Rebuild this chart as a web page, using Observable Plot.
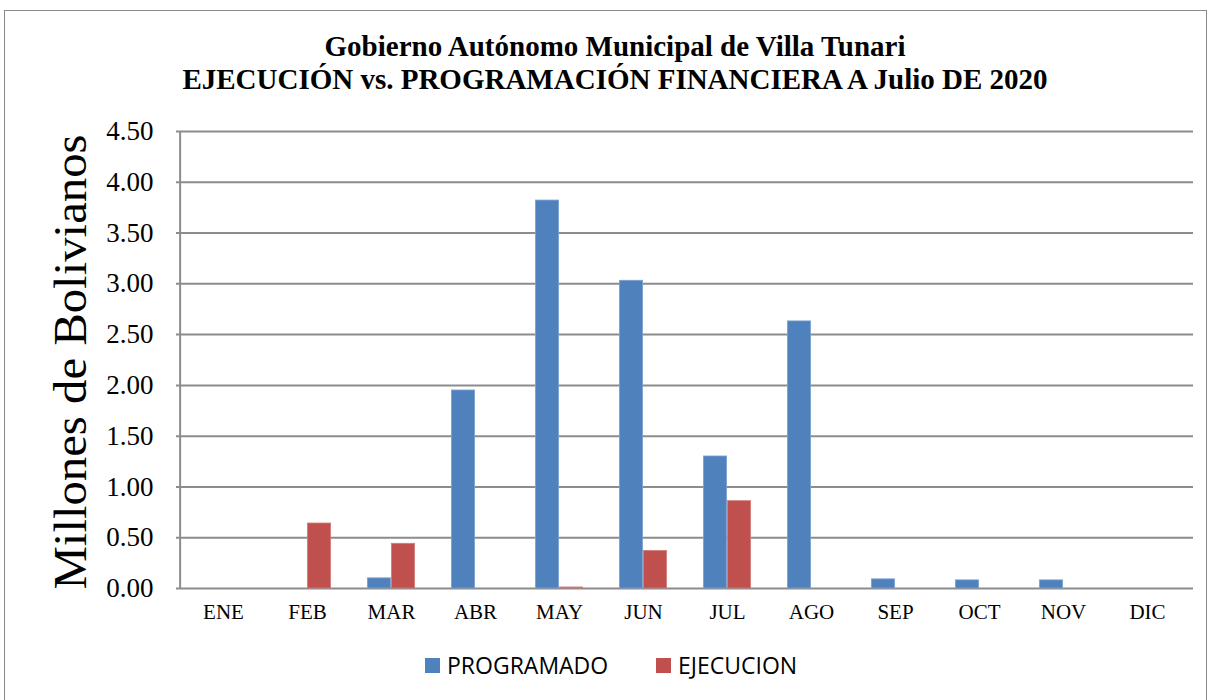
<!DOCTYPE html>
<html>
<head>
<meta charset="utf-8">
<script src="https://cdn.jsdelivr.net/npm/d3@7"></script>
<script src="https://cdn.jsdelivr.net/npm/@observablehq/plot@0.6"></script>
<style>
  html, body { margin: 0; padding: 0; background: #fff; }
  #wrap { position: relative; width: 1211px; height: 700px; overflow: hidden; background: #fff; }
  #frame { position: absolute; left: 4px; top: 10px; width: 1203px; height: 700px; border: 1px solid #8a8a8a; box-sizing: border-box; }
  #title { position: absolute; left: 0; width: 1230px; top: 30px; text-align: center;
           font-family: "Liberation Serif", "Times New Roman", serif; font-weight: bold; font-size: 29px; line-height: 33px; color: #000; }
  #chart { position: absolute; left: 0; top: 0; }
  #ytitle { position: absolute; left: 0; top: 0; }
  #legend { position: absolute; top: 650px; left: 0; width: 1211px; height: 30px;
            font-family: "Open Sans", "Liberation Sans", sans-serif; font-size: 23px; color: #000; }
  .item { position: absolute; top: 0; display: flex; align-items: center; height: 30px; }
  .sw { width: 15px; height: 15px; margin-right: 7px; }
</style>
</head>
<body>
<div id="wrap">
  <div id="frame"></div>
  <div id="title">Gobierno Autónomo Municipal de Villa Tunari<br>EJECUCIÓN vs. PROGRAMACIÓN FINANCIERA A Julio DE 2020</div>
  <div id="chart"></div>
  <svg id="ytitle" width="120" height="700">
    <text transform="translate(86,362) rotate(-90)" text-anchor="middle" font-family="Liberation Serif, Times New Roman, serif" font-size="46" textLength="455" lengthAdjust="spacingAndGlyphs" fill="#000">Millones de Bolivianos</text>
  </svg>
  <div id="legend"></div>
</div>
<script>
const months = ["ENE","FEB","MAR","ABR","MAY","JUN","JUL","AGO","SEP","OCT","NOV","DIC"];
const programado = [0, 0, 0.10, 1.95, 3.82, 3.03, 1.30, 2.63, 0.09, 0.08, 0.08, 0];
const ejecucion  = [0, 0.64, 0.44, 0, 0.01, 0.37, 0.86, 0, 0, 0, 0, 0];
const seriesNames = ["PROGRAMADO", "EJECUCION"];
const seriesColors = ["#4F81BD", "#C0504D"];
const seriesEdge = ["#7FA3D1", "#D27C7A"];
const yTicks = [0, 0.5, 1, 1.5, 2, 2.5, 3, 3.5, 4, 4.5];

const W = 1211, H = 640, mL = 176, mR = 18, mT = 131, mB = 52;
const band = (W - mL - mR) / months.length;
const barW = 24;

const progData = months.map((m, i) => ({month: m, value: programado[i]}));
const ejecData = months.map((m, i) => ({month: m, value: ejecucion[i]}));

const chart = Plot.plot({
  width: W, height: H,
  marginLeft: mL, marginRight: mR, marginTop: mT, marginBottom: mB,
  style: {background: "transparent", fontFamily: "Liberation Serif, Times New Roman, serif"},
  x: {domain: months, padding: 0, label: null},
  y: {domain: [0, 4.5], label: null},
  marks: [
    Plot.gridY(yTicks, {stroke: "#8c8c8c", strokeOpacity: 1, strokeWidth: 2}),
    Plot.ruleX([months[0]], {x: d => d, y1: 0, y2: 4.5, dx: -band / 2 - 1, stroke: "#8c8c8c", strokeWidth: 2}),
    Plot.barY(progData, {x: "month", y: "value", fill: seriesColors[0], stroke: seriesEdge[0], strokeWidth: 0.8,
      insetLeft: band / 2 - barW, insetRight: band / 2}),
    Plot.barY(ejecData, {x: "month", y: "value", fill: seriesColors[1], stroke: seriesEdge[1], strokeWidth: 0.8,
      insetLeft: band / 2, insetRight: band / 2 - barW}),
    Plot.axisY(yTicks, {tickSize: 0, tickPadding: 23, tickFormat: d3.format(".2f"), fontSize: 27, fill: "#000", label: null}),
    Plot.axisX({tickSize: 0, tickPadding: 16, fontSize: 21, fill: "#000", label: null})
  ]
});
document.getElementById("chart").appendChild(chart);

const legend = document.getElementById("legend");
const legendLeft = [425, 656];
seriesNames.forEach((name, i) => {
  const item = document.createElement("div");
  item.className = "item";
  item.style.left = legendLeft[i] + "px";
  const sw = document.createElement("div");
  sw.className = "sw";
  sw.style.background = seriesColors[i];
  const t = document.createElement("span");
  t.textContent = name;
  item.appendChild(sw);
  item.appendChild(t);
  legend.appendChild(item);
});
</script>
</body>
</html>
